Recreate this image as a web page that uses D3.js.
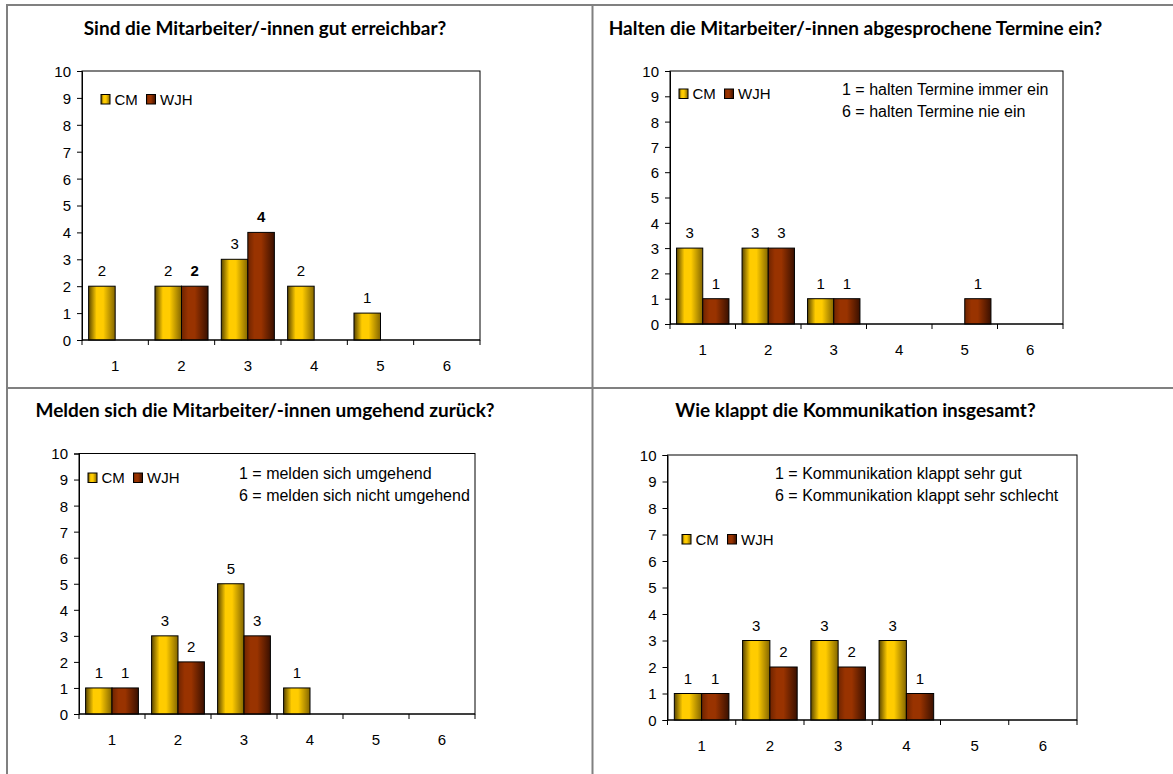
<!DOCTYPE html>
<html><head><meta charset="utf-8">
<script src="https://cdn.jsdelivr.net/npm/d3@7"></script>
<style>
html,body{margin:0;padding:0;background:#fff;}
svg{display:block;}
</style></head>
<body>
<svg id="c" width="1173" height="774"></svg>
<script>
// ---- data ----
const categories = ["1","2","3","4","5","6"];
const seriesNames = ["CM","WJH"];
const yTicks = [0,1,2,3,4,5,6,7,8,9,10];

const titles = [
  "Sind die Mitarbeiter/-innen gut erreichbar?",
  "Halten die Mitarbeiter/-innen abgesprochene Termine ein?",
  "Melden sich die Mitarbeiter/-innen umgehend zurück?",
  "Wie klappt die Kommunikation insgesamt?"
];
const cm1 = [2,2,3,2,1,0];
const wjh1 = [0,2,4,0,0,0];
const cm2 = [3,3,1,0,0,0];
const wjh2 = [1,3,1,0,1,0];
const cm3 = [1,3,5,1,0,0];
const wjh3 = [1,2,3,0,0,0];
const cm4 = [1,3,3,3,0,0];
const wjh4 = [1,2,2,1,0,0];
const notes2 = ["1 = halten Termine immer ein","6 = halten Termine nie ein"];
const notes3 = ["1 = melden sich umgehend","6 = melden sich nicht umgehend"];
const notes4 = ["1 = Kommunikation klappt sehr gut","6 = Kommunikation klappt sehr schlecht"];

// ---- layout ----
const charts = [
  {title:titles[0], cm:cm1, wjh:wjh1, notes:[], boldWJH:true,
   plot:{l:82,t:71,r:480,b:340}, tx:265, ty:35, leg:{x:101,y:94.5}, note:null},
  {title:titles[1], cm:cm2, wjh:wjh2, notes:notes2, boldWJH:false,
   plot:{l:670,t:71,r:1063,b:324}, tx:855.5, ty:35, leg:{x:679,y:89}, note:{x:842,y:95}},
  {title:titles[2], cm:cm3, wjh:wjh3, notes:notes3, boldWJH:false,
   plot:{l:79,t:453.5,r:475,b:714}, tx:265, ty:417, leg:{x:88,y:473}, note:{x:239,y:479}},
  {title:titles[3], cm:cm4, wjh:wjh4, notes:notes4, boldWJH:false,
   plot:{l:667.5,t:455,r:1077,b:720}, tx:855.5, ty:417, leg:{x:682,y:534.5}, note:{x:775,y:479}}
];

const svg = d3.select("#c");
const defs = svg.append("defs");
function grad(id, stops){
  const g = defs.append("linearGradient").attr("id", id).attr("x1","0%").attr("x2","100%").attr("y1","0%").attr("y2","0%");
  stops.forEach(s => g.append("stop").attr("offset", s[0]).attr("stop-color", s[1]));
}
grad("gCM", [["0%","#5a4600"],["30%","#ffcc00"],["55%","#ffcc00"],["100%","#846600"]]);
grad("gWJH", [["0%","#6e2400"],["25%","#993300"],["50%","#993300"],["100%","#3a1000"]]);
const fills = {CM:"url(#gCM)", WJH:"url(#gWJH)"};

// table grid lines
const grid = svg.append("g").attr("stroke","#808080").attr("stroke-width",2);
grid.append("line").attr("x1",6).attr("x2",1173).attr("y1",5).attr("y2",5);
grid.append("line").attr("x1",7).attr("x2",7).attr("y1",4).attr("y2",774);
grid.append("line").attr("x1",592.5).attr("x2",592.5).attr("y1",4).attr("y2",774);
grid.append("line").attr("x1",6).attr("x2",1173).attr("y1",388).attr("y2",388);

const FONT = "'Liberation Sans', Arial, sans-serif";

charts.forEach(c => {
  const g = svg.append("g");
  const p = c.plot;
  const x = d3.scaleBand().domain(categories).range([p.l, p.r]).padding(0);
  const xs = d3.scaleBand().domain(seriesNames).range([0, x.bandwidth()]).paddingInner(0).paddingOuter(0.25);
  const y = d3.scaleLinear().domain([0,10]).range([p.b, p.t]);

  // title
  g.append("text").attr("x", c.tx).attr("y", c.ty).attr("text-anchor","middle")
    .attr("font-family","Lato, 'Open Sans', sans-serif").attr("font-weight","bold")
    .attr("font-size", 19).attr("fill","#000").text(c.title);

  // plot frame
  g.append("rect").attr("x", p.l).attr("y", p.t).attr("width", p.r-p.l).attr("height", p.b-p.t)
    .attr("fill","none").attr("stroke","#000").attr("stroke-width",1);

  // bars
  const data = [];
  categories.forEach((cat,i) => {
    data.push({cat, s:"CM", v:c.cm[i]});
    data.push({cat, s:"WJH", v:c.wjh[i]});
  });
  const nz = data.filter(d => d.v > 0);
  g.selectAll("rect.bar").data(nz).join("rect").attr("class","bar")
    .attr("x", d => x(d.cat) + xs(d.s))
    .attr("y", d => y(d.v))
    .attr("width", xs.bandwidth())
    .attr("height", d => y(0) - y(d.v))
    .attr("fill", d => fills[d.s]).attr("stroke","#000").attr("stroke-width",1);

  g.selectAll("text.val").data(nz).join("text").attr("class","val")
    .attr("x", d => x(d.cat) + xs(d.s) + xs.bandwidth()/2)
    .attr("y", d => y(d.v) - 10)
    .attr("text-anchor","middle").attr("font-family", FONT).attr("font-size",15)
    .attr("font-weight", d => (c.boldWJH && d.s==="WJH") ? "bold" : "normal")
    .text(d => d.v);

  // y axis
  const ya = d3.axisLeft(y).tickValues(yTicks).tickSize(5).tickPadding(6).tickFormat(d3.format("d"));
  const yg = g.append("g").attr("transform",`translate(${p.l},0)`).call(ya);
  yg.select(".domain").attr("stroke","#000");
  yg.selectAll(".tick line").attr("stroke","#000");
  yg.selectAll("text").attr("font-family",FONT).attr("font-size",15).attr("fill","#000").attr("dy","0.36em");

  // x axis: ticks at category boundaries
  const bounds = categories.map(cat => x(cat)).concat([p.r]);
  const xg = g.append("g");
  xg.append("line").attr("x1",p.l).attr("x2",p.r).attr("y1",p.b).attr("y2",p.b).attr("stroke","#000");
  xg.selectAll("line.t").data(bounds).join("line").attr("class","t")
    .attr("x1", d=>d).attr("x2", d=>d).attr("y1", p.b).attr("y2", p.b+5).attr("stroke","#000");
  xg.selectAll("text").data(categories).join("text")
    .attr("x", d => x(d) + x.bandwidth()/2).attr("y", p.b + 30.5)
    .attr("text-anchor","middle").attr("font-family",FONT).attr("font-size",15).text(d=>d);

  // legend
  const lg = g.append("g").attr("transform",`translate(${c.leg.x},${c.leg.y})`);
  const legOff = [0, 45.5];
  seriesNames.forEach((s,i) => {
    lg.append("rect").attr("x", legOff[i]).attr("y", 0).attr("width",9).attr("height",9.5)
      .attr("fill", fills[s]).attr("stroke","#000").attr("stroke-width",1);
    lg.append("text").attr("x", legOff[i] + 13.5).attr("y", 10).attr("font-family",FONT)
      .attr("font-size",15).text(s);
  });

  // notes
  if (c.note) {
    c.notes.forEach((t,i) => {
      g.append("text").attr("x", c.note.x).attr("y", c.note.y + i*22)
        .attr("font-family",FONT).attr("font-size",16).text(t);
    });
  }
});
</script>
</body></html>
